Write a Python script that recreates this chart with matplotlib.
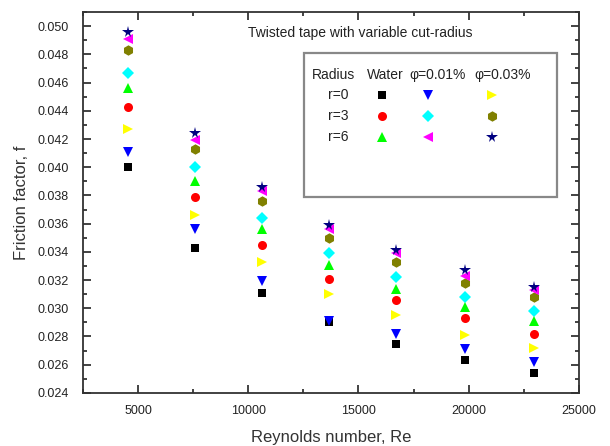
import matplotlib
matplotlib.use("Agg")
import matplotlib.pyplot as plt
from matplotlib.ticker import MultipleLocator
from matplotlib.patches import Rectangle

plt.rcParams['font.family'] = ['Liberation Sans', 'DejaVu Sans']

# Reynolds numbers (one group of points per value)
re = [4550, 7600, 10640, 13640, 16680, 19820, 22950]

# friction factor, r = cut radius, water / phi=0.01% / phi=0.03%
f_r0_water = [0.0400, 0.0343, 0.0311, 0.0290, 0.0275, 0.0263, 0.0254]
f_r0_p001 = [0.0411, 0.0356, 0.0319, 0.0291, 0.0282, 0.0271, 0.0262]
f_r0_p003 = [0.0427, 0.0366, 0.0333, 0.0310, 0.0295, 0.0281, 0.0272]
f_r3_water = [0.0443, 0.0379, 0.0345, 0.0321, 0.0306, 0.0293, 0.0282]
f_r3_p001 = [0.0467, 0.0400, 0.0364, 0.0339, 0.0322, 0.0308, 0.0298]
f_r3_p003 = [0.0483, 0.0413, 0.0376, 0.0350, 0.0333, 0.0318, 0.0308]
f_r6_water = [0.0456, 0.0390, 0.0356, 0.0331, 0.0314, 0.0301, 0.0291]
f_r6_p001 = [0.0491, 0.0419, 0.0383, 0.0356, 0.0339, 0.0323, 0.0313]
f_r6_p003 = [0.0496, 0.0424, 0.0386, 0.0359, 0.0341, 0.0327, 0.0315]

rows = ["r=0", "r=3", "r=6"]
cols = ["Water", "φ=0.01%", "φ=0.03%"]

series = [
    [f_r0_water, f_r0_p001, f_r0_p003],
    [f_r3_water, f_r3_p001, f_r3_p003],
    [f_r6_water, f_r6_p001, f_r6_p003],
]
markers = [["s", "v", ">"], ["o", "D", "h"], ["^", "<", "*"]]
colors = [["black", "#0000ff", "#ffff00"],
          ["#ff0000", "#00ffff", "#808000"],
          ["#00ff00", "#ff00ff", "#000080"]]
sizes = [[5.5, 7, 7], [6.5, 6, 7.5], [7, 7, 8.5]]

fig = plt.figure(figsize=(6.1, 4.46), dpi=100)
ax = fig.add_axes([0.136, 0.119, 0.813, 0.854])

# draw order: lowest first so the stars stay on top
for i in range(3):
    for j in range(3):
        ax.plot(re, series[i][j], linestyle="none", marker=markers[i][j],
                color=colors[i][j], markersize=sizes[i][j], markeredgewidth=0)

ax.set_xlim(2500, 25000)
ax.set_ylim(0.024, 0.051)
ax.xaxis.set_major_locator(MultipleLocator(5000))
ax.xaxis.set_minor_locator(MultipleLocator(2500))
ax.yaxis.set_major_locator(MultipleLocator(0.002))
ax.yaxis.set_minor_locator(MultipleLocator(0.001))
ax.yaxis.set_major_formatter(plt.FormatStrFormatter("%.3f"))
ax.tick_params(which="both", direction="in", top=True, right=True,
               labelsize=9, colors="#222222")
ax.tick_params(which="major", length=6, width=1.2)
ax.tick_params(which="minor", length=3, width=1.2)
ax.tick_params(axis="x", pad=9)
ax.tick_params(axis="y", pad=10)
for s in ax.spines.values():
    s.set_linewidth(1.3)
    s.set_color("#333333")

ax.set_xlabel("Reynolds number, Re", fontsize=12, color="#333333", labelpad=9)
ax.set_ylabel("Friction factor, f", fontsize=12, color="#333333", labelpad=6)

ax.text(0.56, 0.945, "Twisted tape with variable cut-radius", transform=ax.transAxes,
        ha="center", va="center", fontsize=10, color="#222222")

# table-style legend
ax.add_patch(Rectangle((0.4456, 0.5144), 0.51, 0.378, transform=ax.transAxes,
                       fill=False, edgecolor="#888888", linewidth=1.6, zorder=5))
ty = 0.8346
ax.text(0.4617, ty, "Radius", transform=ax.transAxes, va="center", fontsize=10, color="#222222")
col_text_x = [0.572, 0.659, 0.790]
for j in range(3):
    ax.text(col_text_x[j], ty, cols[j], transform=ax.transAxes, va="center",
            fontsize=10, color="#222222")
row_y = [0.7822, 0.7270, 0.6719]
mark_x = [0.603, 0.696, 0.825]
for i in range(3):
    ax.text(0.494, row_y[i], rows[i], transform=ax.transAxes, va="center",
            fontsize=10, color="#222222")
    for j in range(3):
        ax.plot(mark_x[j], row_y[i], transform=ax.transAxes, linestyle="none",
                marker=markers[i][j], color=colors[i][j], markersize=sizes[i][j],
                markeredgewidth=0)

fig.savefig("out.png", dpi=100)
